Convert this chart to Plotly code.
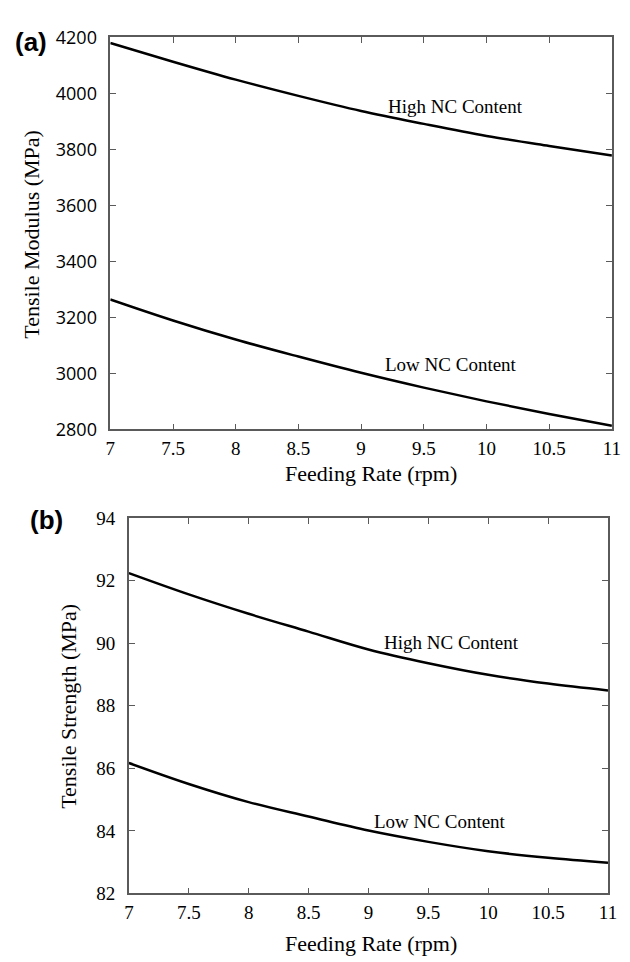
import plotly.graph_objects as go

feed_rate = [7, 7.5, 8, 8.5, 9, 9.5, 10, 10.5, 11]
modulus_high = [4180, 4113, 4049, 3991, 3937, 3891, 3848, 3812, 3778]
modulus_low = [3264, 3189, 3121, 3060, 3002, 2949, 2900, 2855, 2813]
strength_high = [92.24, 91.56, 90.94, 90.37, 89.80, 89.36, 88.99, 88.71, 88.49]
strength_low = [86.17, 85.50, 84.92, 84.46, 84.01, 83.65, 83.35, 83.14, 82.98]

x_ticks = [7, 7.5, 8, 8.5, 9, 9.5, 10, 10.5, 11]
x_ticklabels = ["7", "7.5", "8", "8.5", "9", "9.5", "10", "10.5", "11"]
mod_ticks = [2800, 3000, 3200, 3400, 3600, 3800, 4000, 4200]
str_ticks = [82, 84, 86, 88, 90, 92, 94]

W, H = 630, 962
SERIF = "Liberation Serif"
SANS = "Open Sans"
LINE = dict(color="black", width=2.5, shape="spline")

fig = go.Figure()
fig.add_trace(go.Scatter(x=feed_rate, y=modulus_high, mode="lines", line=LINE, xaxis="x", yaxis="y", showlegend=False))
fig.add_trace(go.Scatter(x=feed_rate, y=modulus_low, mode="lines", line=LINE, xaxis="x", yaxis="y", showlegend=False))
fig.add_trace(go.Scatter(x=feed_rate, y=strength_high, mode="lines", line=LINE, xaxis="x2", yaxis="y2", showlegend=False))
fig.add_trace(go.Scatter(x=feed_rate, y=strength_low, mode="lines", line=LINE, xaxis="x2", yaxis="y2", showlegend=False))

def axis_common(font_family, size=19):
    return dict(
        showline=True, linecolor="#5a5a5a", linewidth=1.5, mirror="ticks",
        ticks="inside", ticklen=6, tickcolor="#5a5a5a", tickwidth=1.2,
        showgrid=False, zeroline=False,
        tickfont=dict(family=font_family, size=size, color="black"),
    )

fig.update_layout(
    width=W, height=H,
    margin=dict(l=0, r=0, t=0, b=0),
    paper_bgcolor="white", plot_bgcolor="white",
    xaxis=dict(domain=[107.7/W, 620.7/W], anchor="y", range=[7, 11],
               tickvals=x_ticks, ticktext=x_ticklabels, ticklabeloverflow="allow",
               ticklabelstandoff=1, **axis_common(SERIF, 19)),
    yaxis=dict(domain=[1-427/H, 1-25/H], anchor="x", range=[2800, 4200],
               tickvals=mod_ticks, ticklabelstandoff=8, **axis_common(SANS, 18)),
    xaxis2=dict(domain=[126.7/W, 616.7/W], anchor="y2", range=[7, 11],
                tickvals=x_ticks, ticktext=x_ticklabels, ticklabeloverflow="allow",
                ticklabelstandoff=1, **axis_common(SERIF, 19)),
    yaxis2=dict(domain=[1-903/H, 1-518/H], anchor="x2", range=[82, 94],
                tickvals=str_ticks, ticklabelstandoff=8, **axis_common(SERIF, 19)),
)

ann_font = dict(family=SERIF, size=19, color="black")
fig.add_annotation(x=9.75, y=3953, xref="x", yref="y", text="High NC Content", showarrow=False, font=ann_font)
fig.add_annotation(x=9.72, y=3033, xref="x", yref="y", text="Low NC Content", showarrow=False, font=ann_font)
fig.add_annotation(x=9.69, y=90.03, xref="x2", yref="y2", text="High NC Content", showarrow=False, font=ann_font)
fig.add_annotation(x=9.6, y=84.3, xref="x2", yref="y2", text="Low NC Content", showarrow=False, font=ann_font)

# axis titles placed at measured pixel positions
title_font = dict(family=SERIF, size=22, color="black")
def paper_text(px, py, text, font, angle=0):
    fig.add_annotation(x=px/W, y=1-py/H, xref="paper", yref="paper", text=text,
                       showarrow=False, font=font, textangle=angle,
                       xanchor="center", yanchor="middle")

paper_text(374, 472, "Feeding Rate (rpm)", title_font)
paper_text(374, 954, "Feeding Rate (rpm)", title_font)
paper_text(27, 227, "Tensile Modulus (MPa)", title_font, -90)
paper_text(65, 711, "Tensile Strength (MPa)", title_font, -90)

panel_font = dict(family="Liberation Sans", size=26, color="black")
paper_text(27, 30, "<b>(a)</b>", panel_font)
paper_text(42, 520, "<b>(b)</b>", panel_font)

fig.write_html("out.html")
